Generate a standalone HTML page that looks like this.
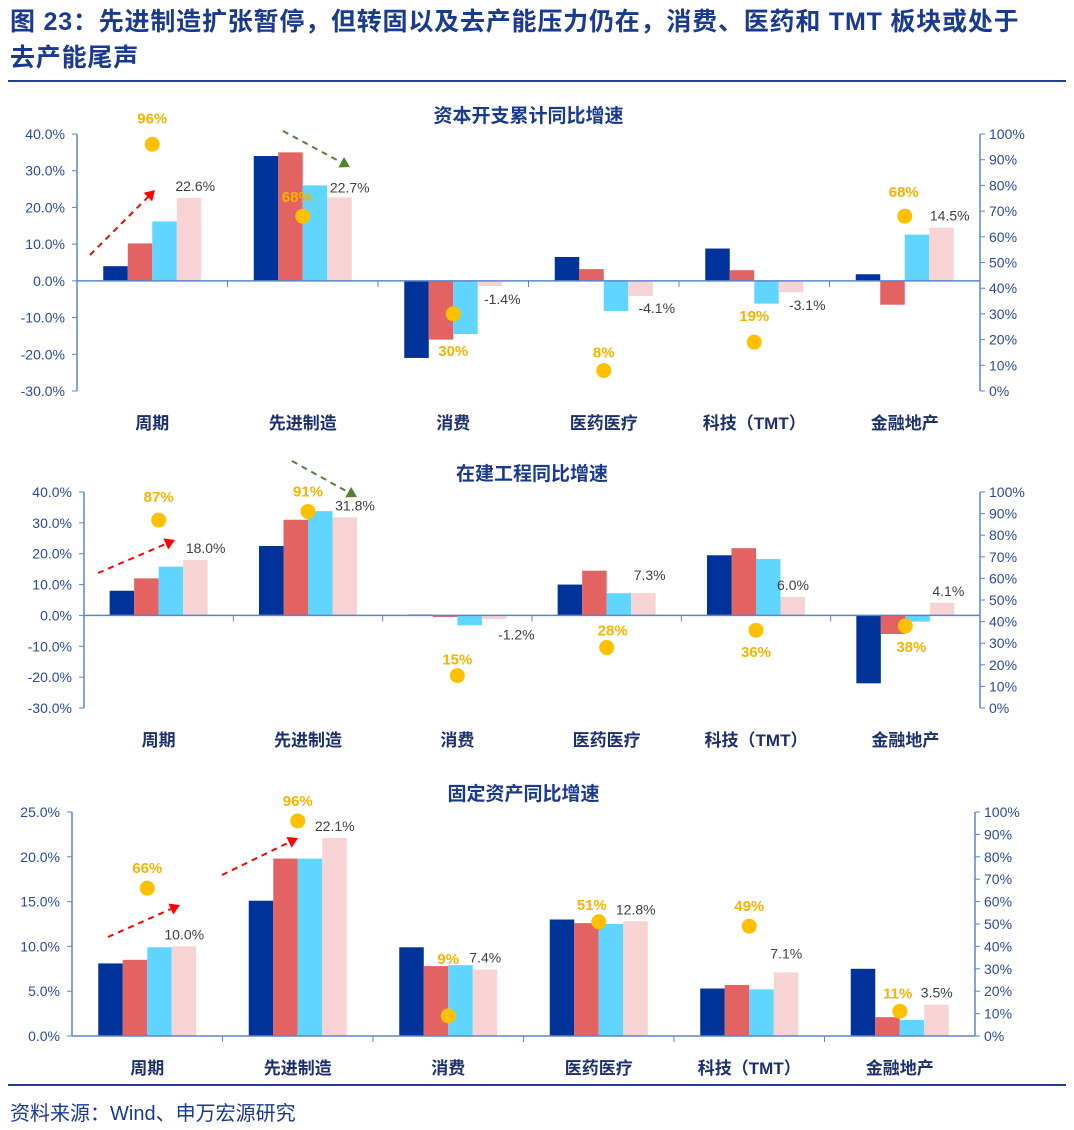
<!DOCTYPE html>
<html><head><meta charset="utf-8">
<style>
body{margin:0;background:#fff;width:1074px;height:1130px;overflow:hidden;font-family:"Liberation Sans","Noto Sans CJK SC",sans-serif;}
#hdr{position:absolute;left:10px;top:4px;font-size:25px;font-weight:bold;color:#1a3a8f;line-height:36px;letter-spacing:0.8px;white-space:nowrap;}
#l1{position:absolute;left:8px;top:80px;width:1058px;height:2px;background:#1f3f99;}
#l2{position:absolute;left:8px;top:1084px;width:1058px;height:2px;background:#1f3f99;}
#src{position:absolute;left:10px;top:1097px;font-size:20px;color:#1a3a8f;}
svg{position:absolute;left:0;top:0;}
</style></head><body>
<div id="hdr">图 23：先进制造扩张暂停，但转固以及去产能压力仍在，消费、医药和 TMT 板块或处于<br>去产能尾声</div>
<div id="l1"></div>
<svg id="chart" width="1074" height="1130"></svg>
<div id="l2"></div>
<div id="src">资料来源：Wind、申万宏源研究</div>
<script>
const categories=["周期","先进制造","消费","医药医疗","科技（TMT）","金融地产"];
const c1S1=[4.0,34.0,-21.0,6.5,8.8,1.8];
const c1S2=[10.2,35.0,-16.0,3.2,2.9,-6.5];
const c1S3=[16.2,26.0,-14.5,-8.2,-6.2,12.6];
const c1S4=[22.6,22.7,-1.4,-4.1,-3.1,14.5];
const c1Dots=[96,68,30,8,19,68];
const c2S1=[8.0,22.5,0.3,10.0,19.5,-22.0];
const c2S2=[12.0,31.0,-0.5,14.5,21.8,-6.0];
const c2S3=[15.8,33.8,-3.2,7.2,18.3,-2.0];
const c2S4=[18.0,31.8,-1.2,7.3,6.0,4.1];
const c2Dots=[87,91,15,28,36,38];
const c3S1=[8.1,15.1,9.9,13.0,5.3,7.5];
const c3S2=[8.5,19.8,7.8,12.6,5.7,2.1];
const c3S3=[9.9,19.8,7.9,12.5,5.2,1.8];
const c3S4=[10.0,22.1,7.4,12.8,7.1,3.5];
const c3Dots=[66,96,9,51,49,11];
const leftTicks1=[40,30,20,10,0,-10,-20,-30];
const leftTicks3=[25,20,15,10,5,0];
const rightTicks=[100,90,80,70,60,50,40,30,20,10,0];

const NS="http://www.w3.org/2000/svg";
const svg=document.getElementById('chart');
function mk(tag,attrs,txt){const e=document.createElementNS(NS,tag);for(const k in attrs)e.setAttribute(k,attrs[k]);if(txt!==undefined)e.textContent=txt;svg.appendChild(e);return e;}
const colors=["#003399","#e36262","#5fd5ff","#f8d3d3"];
function chart(cfg){
  const {left,right,top,bottom,ymin,ymax,ticks,series,dots,title,titleY,dotOff,valOff,name}=cfg;
  const y=v=>top+(ymax-v)/(ymax-ymin)*(bottom-top);
  const yr=v=>bottom-v/100*(bottom-top);
  const gw=(right-left)/categories.length;
  const cx=i=>left+gw*(i+0.5);
  let t=mk('text',{x:(left+right)/2,y:titleY,'text-anchor':'middle','font-size':19,'font-weight':'bold',fill:'#1a3a8f'},title);
  
  let a=mk('line',{x1:left,y1:top,x2:left,y2:bottom,stroke:'#5b86cf','stroke-width':1.5});
  
  a=mk('line',{x1:right,y1:top,x2:right,y2:bottom,stroke:'#5b86cf','stroke-width':1.5});
  
  ticks.forEach(v=>{
    mk('line',{x1:left-5,y1:y(v),x2:left,y2:y(v),stroke:'#5b86cf'});
    let e=mk('text',{x:left-12,y:y(v)+5,'text-anchor':'end','font-size':14,fill:'#2a4b9b'},v.toFixed(1)+'%');
    
  });
  rightTicks.forEach(v=>{
    mk('line',{x1:right,y1:yr(v),x2:right+5,y2:yr(v),stroke:'#5b86cf'});
    let e=mk('text',{x:right+9,y:yr(v)+5,'font-size':14,fill:'#2a4b9b'},v+'%');
    
  });
  const bw=24.5;
  categories.forEach((c,i)=>{
    series.forEach((s,k)=>{
      const v=s[i];const x0=cx(i)-2*bw+k*bw;
      const r=mk('rect',{x:x0,y:Math.min(y(0),y(v)),width:bw,height:Math.abs(y(v)-y(0)),fill:colors[k]});
      
    });
    const v=series[3][i];const o=valOff[i];
    let lb=mk('text',{x:cx(i)+2*bw-12+o[0],y:(v>=0?y(v)-7:y(0)+20)+o[1],'text-anchor':'middle','font-size':14,fill:'#404040'},v.toFixed(1)+'%');
    
    let cl=mk('text',{x:cx(i),y:bottom+38,'text-anchor':'middle','font-size':17,'font-weight':'bold',fill:'#1c2f6e'},c);
    
    if(i>0)mk('line',{x1:left+gw*i,y1:y(0),x2:left+gw*i,y2:y(0)+6,stroke:'#5b86cf'});
  });
  let z=mk('line',{x1:left,y1:y(0),x2:right,y2:y(0),stroke:'#5b86cf','stroke-width':1.5});
  
  dots.forEach((d,i)=>{
    const o=dotOff[i];const dx=cx(i)+o[2];
    let c=mk('circle',{cx:dx,cy:yr(d),r:7.5,fill:'#ffc000'});
    
    let l=mk('text',{x:dx+o[0],y:yr(d)+o[1],'text-anchor':'middle','font-size':15,'font-weight':'bold',fill:'#f5b400'},d+'%');
    
  });
}
function arrow(x1,y1,x2,y2,col,name){
  const ang=Math.atan2(y2-y1,x2-x1),L=10;
  const bx=x2-L*Math.cos(ang),by=y2-L*Math.sin(ang);
  let l=mk('line',{x1,y1,x2:bx,y2:by,stroke:col,'stroke-width':2,'stroke-dasharray':'6,5'});
  
  const px=-Math.sin(ang)*6,py=Math.cos(ang)*6;
  mk('polygon',{points:`${x2},${y2} ${bx+px},${by+py} ${bx-px},${by-py}`,fill:col});
}
chart({name:'capex',left:77,right:980,top:134,bottom:391,ymin:-30,ymax:40,ticks:leftTicks1,
  series:[c1S1,c1S2,c1S3,c1S4],dots:c1Dots,title:'资本开支累计同比增速',titleY:122,
  dotOff:[[0,-21,0],[-6,-14,0],[0,42,0],[0,-13,0],[0,-21,0],[-1,-19,0]],
  valOff:[[6,0],[10,2],[12,3],[16,12],[16,9],[8,0]]});
chart({name:'cip',left:84,right:980,top:492,bottom:708,ymin:-30,ymax:40,ticks:leftTicks1,
  series:[c2S1,c2S2,c2S3,c2S4],dots:c2Dots,title:'在建工程同比增速',titleY:480,
  dotOff:[[0,-18,0],[0,-15,0],[0,-11,0],[6,-12,0],[0,27,0],[6,26,0]],
  valOff:[[10,0],[10,0],[22,4],[6,-6],[0,0],[6,0]]});
chart({name:'fixed-asset',left:72,right:975,top:812,bottom:1036,ymin:0,ymax:25,ticks:leftTicks3,
  series:[c3S1,c3S2,c3S3,c3S4],dots:c3Dots,title:'固定资产同比增速',titleY:800,
  dotOff:[[0,-15,0],[0,-15,0],[0,-52,0],[-7,-12,0],[0,-15,0],[-2,-13,0]],
  valOff:[[0,0],[0,0],[0,0],[0,0],[0,-7],[0,0]]});
arrow(90,255,155,190,'#ff0000','capex-red-arrow');
arrow(283,131,350,167,'#548235','capex-green-arrow');
arrow(98,573,175,540,'#ff0000','cip-red-arrow');
arrow(292,461,357,497,'#548235','cip-green-arrow');
arrow(108,937,180,905,'#ff0000','fa-red-arrow-1');
arrow(222,875,298,838,'#ff0000','fa-red-arrow-2');
</script>
</body></html>
